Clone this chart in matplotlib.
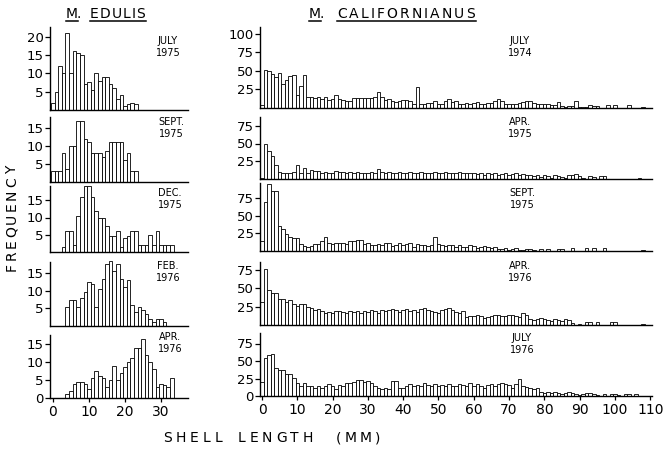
import matplotlib
matplotlib.use('Agg')
import matplotlib.pyplot as plt
from matplotlib.lines import Line2D

# ---------------- DATA ----------------
# M. edulis (bin centres in mm, first bin given by *_start)
edulis_jul75_start = 0
edulis_jul75 = [2, 5, 12, 10, 21, 10, 16, 15.5, 15, 7, 7.5, 5.5, 10, 8, 9, 9, 7, 6, 3, 4, 1, 1.5, 2, 1.5]
edulis_sep75_start = 0
edulis_sep75 = [3, 3, 3, 8, 3.5, 10, 10, 17, 17, 12, 11, 8, 8, 8, 7, 8.5, 11, 11, 11, 11, 6, 8, 3, 3]
edulis_dec75_start = 3
edulis_dec75 = [1.5, 6, 6, 2, 10.5, 16, 19, 19, 16, 12, 10, 10, 7.5, 4.5, 4.5, 6, 1.5, 4, 4.5, 6, 6,
                2, 2, 2, 5, 2, 6, 2, 2, 2, 2]
edulis_feb76_start = 4
edulis_feb76 = [5.5, 7.3, 7.3, 5.5, 7.8, 9.5, 12.4, 11.8, 5.5, 10.5, 13.3, 17.5, 18.5, 15.6, 17.5, 13.3,
                11, 13, 6, 4, 5.4, 4.5, 3.5, 2, 1, 2, 2, 1]
edulis_apr76_start = 4
edulis_apr76 = [1, 2, 4, 4.5, 4.5, 4, 2.5, 5.5, 7.5, 6, 5.5, 3, 5, 9, 5, 7, 8.5, 10, 11, 14, 14, 16.5,
                12, 10, 8, 3, 4, 3.5, 3, 5.5]

# M. californianus (bins 0..108 mm)
cal_jul74 = ([4, 52, 50, 46, 42, 47, 33, 38, 43, 44, 18, 30, 44]
             + [15, 15, 13, 15, 12, 15, 11, 12, 18, 12, 11, 10, 10, 14, 14, 14, 14, 14, 14, 15]
             + [22]
             + [15, 11, 12, 9, 8, 9, 11, 11, 9, 5]
             + [28]
             + [5, 5, 7, 7, 9, 6, 6, 10, 12, 8, 9, 6, 6, 7, 5, 7, 8, 5, 6, 7, 7, 10, 12, 10, 6, 5, 5,
                6, 7, 8, 9, 9, 7, 6, 6, 5, 5, 4, 4, 8]
             + [3, 2, 3, 3, 9, 2, 1, 2, 4, 3, 3, 0, 0, 4, 0, 4, 0, 0, 0, 4, 0, 0, 0, 1])
cal_apr75 = ([2, 50, 39, 32, 20]
             + [10, 9, 8, 9, 10, 20, 8, 15, 8, 13, 11, 11, 9, 10, 9, 9, 11, 10, 10, 9, 10, 8, 10, 8,
                9, 8, 10, 9, 14, 10, 9]
             + [10, 8, 9, 10, 8, 9, 10, 9, 8, 10, 9, 8, 9, 10, 8, 9, 10, 9, 8, 9, 10, 9, 8, 9, 8]
             + [7, 8, 6, 9, 7, 8, 6, 7, 9, 6, 7, 8, 6, 7, 6]
             + [5, 4, 6, 3, 5, 4, 2, 5, 4, 3, 2, 5, 6, 7, 4, 2, 0, 4, 3, 0, 4, 4]
             + [0, 0, 0, 0, 0, 0, 0, 0, 0, 1, 0])
cal_sep75 = ([14, 70, 95, 85, 85, 36, 31, 24, 20, 18, 18]
             + [10, 7, 5, 7, 10, 10, 14, 20, 12, 10, 11, 11, 12, 10, 14, 14, 15, 15, 10, 12]
             + [9, 8, 10, 8, 12, 12, 7, 9, 11, 8, 10, 12, 6, 10, 8, 9, 7, 8, 20, 10]
             + [9, 7, 8, 9, 6, 8, 5, 6, 8, 7, 4, 6, 7, 5, 4, 6, 3, 3, 4, 2, 3, 4, 2, 2, 3]
             + [3, 2, 0, 3, 0, 3, 0, 0, 3, 3, 0, 0, 4, 0, 0, 0, 4, 0, 4, 0, 0, 4]
             + [0, 0, 0, 0, 0, 0, 0, 0, 0, 0, 1])
cal_apr76 = ([32, 77, 48, 43, 44, 36, 35, 32, 34, 28, 26, 28, 28, 25, 23, 20, 22, 19]
             + [16, 18, 17, 19, 19, 18, 16, 19, 18, 19, 17, 19, 18, 20, 19, 16, 20, 19, 21, 22, 21,
                18, 20, 22, 19, 21, 18, 22, 23, 21, 19, 18, 16, 20, 22, 23, 20, 18, 16, 19]
             + [11, 12, 12, 13, 12, 10, 11, 12, 13, 14, 12, 12, 13, 14, 12, 11, 16, 14]
             + [8, 7, 8, 9, 8, 7, 6, 8, 7, 6, 8, 7, 3, 0, 2, 0]
             + [4, 4, 0, 4, 0, 0, 0, 4, 4, 0, 0, 0, 0, 0, 0, 0, 1])
cal_jul76 = ([20, 55, 58, 60, 40, 37, 37, 32, 32, 26, 18]
             + [15, 18, 15, 15, 12, 14, 12, 14, 17, 14, 10, 16, 14, 19, 18, 20, 23, 23, 20, 22, 19,
                14, 12, 10, 12, 10, 22, 21, 12, 12]
             + [14, 17, 15, 16, 14, 18, 16, 14, 17, 15, 16, 14, 17, 15, 14, 17, 16, 15, 18, 14, 17,
                15, 12, 16, 17, 15, 17, 18, 17, 16, 12, 17]
             + [25, 15, 13, 12, 10, 11, 6, 5, 6, 5, 6, 4, 3, 5, 6, 4, 3, 2, 3, 5, 5, 3, 1, 0, 3, 0,
                3, 3, 2, 0, 3, 3, 0, 3, 0, 0])

left_dates = ["JULY\n1975", "SEPT.\n1975", "DEC.\n1975", "FEB.\n1976", "APR.\n1976"]
right_dates = ["JULY\n1974", "APR.\n1975", "SEPT.\n1975", "APR.\n1976", "JULY\n1976"]
left_yticks = [[5, 10, 15, 20], [5, 10, 15], [5, 10, 15], [5, 10, 15], [0, 5, 10, 15]]
right_yticks = [[25, 50, 75, 100], [25, 50, 75], [25, 50, 75], [25, 50, 75], [0, 25, 50, 75]]
left_xticks = [0, 10, 20, 30]
right_xticks = list(range(0, 111, 10))

# ---------------- LAYOUT (pixels) ----------------
W, H = 663, 449
fig = plt.figure(figsize=(W / 100, H / 100), dpi=100)
FONT = 'DejaVu Sans'

def px_axes(x0, x1, ytop, ybase):
    return fig.add_axes([x0 / W, 1 - ybase / H, (x1 - x0) / W, (ybase - ytop) / H])

# (ytop, ybase, px per unit)
left_geom = [(27, 110, 3.67), (117, 182, 3.6), (186, 252, 3.45), (262, 326, 3.53), (335, 398, 3.6)]
right_geom = [(27, 108, 0.74), (117, 179, 0.71), (183, 251, 0.707), (262, 325, 0.733), (333, 396, 0.70)]

left_data = [(edulis_jul75_start, edulis_jul75), (edulis_sep75_start, edulis_sep75),
             (edulis_dec75_start, edulis_dec75), (edulis_feb76_start, edulis_feb76),
             (edulis_apr76_start, edulis_apr76)]
right_data = [cal_jul74, cal_apr75, cal_sep75, cal_apr76, cal_jul76]

left_date_pos = [(168, 47), (171, 128), (170, 199), (168, 272), (170, 343)]
right_date_pos = [(520, 47), (520, 128), (522, 199), (520, 272), (522, 344)]

def style(ax, yticks, bottom, xticks):
    for s in ['top', 'right']:
        ax.spines[s].set_visible(False)
    ax.spines['left'].set_linewidth(1.0)
    ax.spines['bottom'].set_linewidth(1.0)
    ax.set_yticks(yticks)
    ax.set_yticklabels([str(t) for t in yticks], fontsize=9.5, family=FONT)
    ax.tick_params(axis='y', direction='out', length=3.5, width=0.9, pad=1)
    if bottom:
        ax.set_xticks(xticks)
        ax.set_xticklabels([str(t) for t in xticks], fontsize=10, family=FONT)
        ax.tick_params(axis='x', direction='out', length=3, width=0.9, pad=2)
    else:
        ax.set_xticks([])

bar_kw = dict(width=1.0, align='center', facecolor='white', edgecolor='black', linewidth=0.6,
              clip_on=False)

for i in range(5):
    ytop, ybase, sc = left_geom[i]
    ax = px_axes(50, 188, ytop, ybase)
    start, vals = left_data[i]
    xs = [start + j for j in range(len(vals))]
    ax.bar(xs, vals, **bar_kw)
    ax.set_xlim(-0.8, 37.5)
    ax.set_ylim(0, (ybase - ytop) / sc)
    style(ax, left_yticks[i], i == 4, left_xticks)
    x, y = left_date_pos[i]
    fig.text(x / W, 1 - y / H, left_dates[i], ha='center', va='center', fontsize=7,
             family=FONT, linespacing=1.15)

for i in range(5):
    ytop, ybase, sc = right_geom[i]
    ax = px_axes(260, 652, ytop, ybase)
    vals = right_data[i]
    xs = list(range(len(vals)))
    ax.bar(xs, vals, **bar_kw)
    ax.set_xlim(-0.57, 110.5)
    ax.set_ylim(0, (ybase - ytop) / sc)
    style(ax, right_yticks[i], i == 4, right_xticks)
    x, y = right_date_pos[i]
    fig.text(x / W, 1 - y / H, right_dates[i], ha='center', va='center', fontsize=7,
             family=FONT, linespacing=1.15)

# ---------------- TEXT (tracked to span a given pixel range) ----------------
fig.canvas.draw()
R = fig.canvas.get_renderer()

def char_w(ch, fs):
    t = fig.text(0, 0, ch, fontsize=fs, family=FONT)
    w = t.get_window_extent(R).width
    t.remove()
    return w

def tracked(s, p0, p1, c, fs):
    """Place the characters of s so they run from p0 to p1 (pixels) at height c."""
    widths = [char_w(ch, fs) for ch in s]
    nat = sum(widths)
    extra = (p1 - p0 - nat) / max(len(s) - 1, 1)
    pos = p0
    for ch, w in zip(s, widths):
        mid = pos + w / 2
        fig.text(mid / W, 1 - c / H, ch, ha='center', va='center', fontsize=fs, family=FONT)
        pos += w + extra

def tracked_vertical(s, ybottom, ytop, x, fs):
    widths = [char_w(ch, fs) for ch in s]
    nat = sum(widths)
    extra = (ybottom - ytop - nat) / max(len(s) - 1, 1)
    pos = ybottom
    for ch, w in zip(s, widths):
        mid = pos - w / 2
        fig.text(x / W, 1 - mid / H, ch, rotation=90, ha='center', va='center',
                 fontsize=fs, family=FONT)
        pos -= w + extra

def underline(x0, x1, y):
    yl = 1 - y / H
    fig.add_artist(Line2D([x0 / W, x1 / W], [yl, yl], transform=fig.transFigure,
                          color='black', linewidth=1.1))

fig.text(66 / W, 1 - 14 / H, "M.", ha='left', va='center', fontsize=10, family=FONT)
tracked("EDULIS", 90, 145, 14, 10)
underline(66, 78, 21)
underline(90, 146, 21)
fig.text(309 / W, 1 - 14 / H, "M.", ha='left', va='center', fontsize=10, family=FONT)
tracked("CALIFORNIANUS", 337, 475, 14, 10)
underline(309, 321, 21)
underline(337, 476, 21)

tracked_vertical("FREQUENCY", 271, 166, 12, 10)
tracked("SHELL", 163, 222, 438, 10)
tracked("LENGTH", 238, 313, 438, 10)
tracked("(MM)", 336, 380, 438, 10)

fig.savefig('out.png', dpi=100)
